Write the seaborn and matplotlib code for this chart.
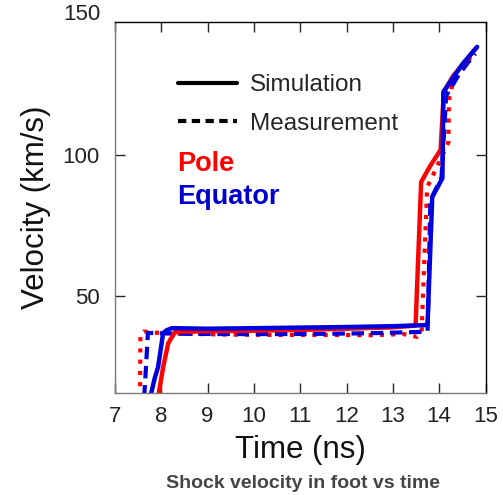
import matplotlib
matplotlib.use("Agg")
import matplotlib.pyplot as plt
from matplotlib.lines import Line2D
import seaborn as sns
import pandas as pd

# ---- data ----
pole_sim_t = [7.93, 8.04, 8.15, 8.30, 9.0, 10.0, 11.0, 12.0, 13.0, 13.49, 13.61, 13.80, 14.03, 14.10, 14.30, 14.55, 14.80]
pole_sim_v = [14.0, 24.8, 33.3, 37.3, 37.5, 37.7, 38.0, 38.4, 38.9, 39.5, 90.4, 96.0, 101.8, 122.5, 128.0, 133.0, 138.0]

eq_sim_t = [7.76, 7.86, 7.93, 8.04, 8.12, 8.23, 9.0, 10.0, 11.0, 12.0, 13.0, 13.72, 13.75, 13.85, 14.07, 14.09, 14.31, 14.52, 14.82]
eq_sim_v = [14.0, 21.0, 24.8, 36.9, 37.9, 38.6, 38.4, 38.6, 38.8, 39.0, 39.3, 39.7, 40.5, 85.1, 91.8, 122.3, 127.7, 132.6, 138.4]

pole_meas_t = [7.54, 7.55, 7.62, 7.85, 8.5, 9.5, 10.5, 11.5, 12.5, 13.23, 13.53, 13.62, 13.74, 13.92, 14.20, 14.21, 14.29, 14.46, 14.63, 14.75]
pole_meas_v = [14.0, 36.5, 37.4, 37.0, 36.6, 36.3, 36.2, 36.2, 36.1, 36.5, 35.5, 37.0, 88.6, 94.7, 104.6, 119.5, 125.5, 129.4, 133.7, 136.5]

eq_meas_t = [7.63, 7.67, 7.71, 8.5, 9.5, 10.5, 11.5, 12.5, 13.66, 13.75, 13.81, 14.05, 14.15, 14.42, 14.63, 14.78]
eq_meas_v = [14.0, 25.0, 36.9, 36.6, 36.5, 36.5, 36.6, 36.8, 37.3, 37.5, 84.0, 92.0, 121.0, 128.4, 133.0, 136.0]

x_ticks = [7, 8, 9, 10, 11, 12, 13, 14, 15]
y_ticks = [50, 100]

RED = "#ff0000"
BLUE = "#0000dd"

sns.set_style("ticks")
plt.rcParams["font.family"] = ["Liberation Sans", "DejaVu Sans"]

fig = plt.figure(figsize=(5.03, 4.95), dpi=100)
ax = fig.add_axes([115 / 503, 1 - 393 / 495, 370.5 / 503, 371 / 495])

def draw(t, v, color, ls, lw=3.2):
    df = pd.DataFrame({"t": t, "v": v})
    sns.lineplot(data=df, x="t", y="v", ax=ax, color=color, sort=False,
                 estimator=None, linewidth=lw, linestyle=ls)

draw(pole_meas_t, pole_meas_v, RED, (0, (1.0, 1.7)), 3.0)
draw(eq_meas_t, eq_meas_v, BLUE, (0, (3.0, 1.6)), 3.0)
draw(pole_sim_t, pole_sim_v, RED, "-")
draw(eq_sim_t, eq_sim_v, BLUE, "-")

ax.set_xlim(7, 15)
ax.set_ylim(15.6, 147.2)
ax.set_xticks(x_ticks)
ax.set_xticklabels([str(x) for x in x_ticks])
ax.set_yticks(y_ticks)
ax.set_yticklabels([str(y) for y in y_ticks])
ax.text(-0.04, 150, "150", transform=ax.get_yaxis_transform(), ha="right",
        va="center", fontsize=16, color="#222222", clip_on=False)

ax.tick_params(axis="both", direction="in", length=7, width=1,
               labelsize=16, labelcolor="#222222", top=True, right=True)
ax.tick_params(axis="x", pad=9)
ax.tick_params(axis="y", pad=11)
for s in ["left", "bottom"]:
    ax.spines[s].set_color("#7a7a7a")
for s in ["top", "right"]:
    ax.spines[s].set_color("#000000")
for s in ax.spines.values():
    s.set_linewidth(1.0)
    s.set_visible(True)

ax.set_xlabel("Time (ns)", fontsize=22.5, color="#111111", labelpad=6)
ax.set_ylabel("Velocity (km/s)", fontsize=22.5, color="#111111", labelpad=8)

handles = [Line2D([], [], color="black", lw=3.0, ls="-"),
           Line2D([], [], color="black", lw=3.0, ls=(0, (2.0, 1.3)))]
leg = ax.legend(handles, ["Simulation", "Measurement"], loc="upper left",
                bbox_to_anchor=(0.145, 0.886), frameon=False, fontsize=17.5,
                handlelength=2.4, handletextpad=0.55, labelspacing=0.68,
                borderaxespad=0)
ax.text(0.167, 0.617, "Pole", transform=ax.transAxes, color=RED,
        fontsize=19.5, fontweight="bold", va="center", ha="left")
ax.text(0.167, 0.527, "Equator", transform=ax.transAxes, color="#0000cc",
        fontsize=19.5, fontweight="bold", va="center", ha="left")

fig.text(303 / 503, 1 - 484 / 495, "Shock velocity in foot vs time",
         ha="center", va="center", fontsize=14, fontweight="bold",
         color="#444444")

fig.savefig("out.png", dpi=100)
